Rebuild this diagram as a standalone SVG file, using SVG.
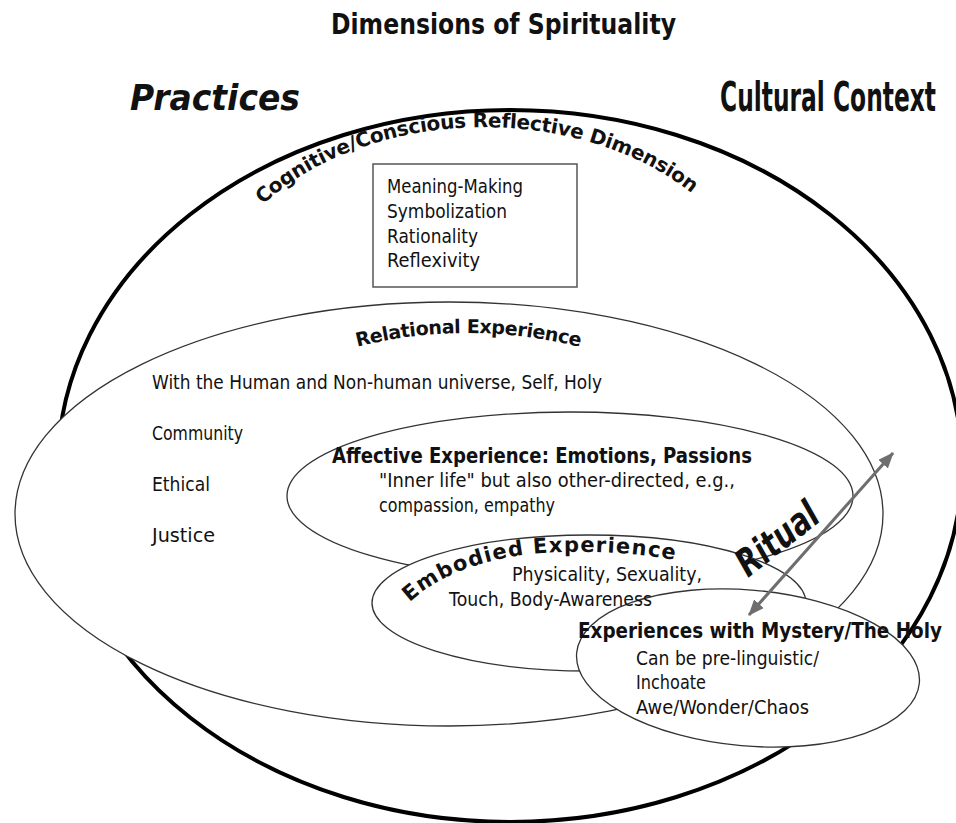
<svg xmlns="http://www.w3.org/2000/svg" width="956" height="823" viewBox="0 0 956 823">
  <style>
    .hand { font-family: 'Comic Sans MS', 'DejaVu Sans', sans-serif; fill: #111; }
    .b { font-weight: bold; }
    .body { font-size: 20px; }
    .ring { fill: #fff; stroke: #333; stroke-width: 1.3; }
    .outer { fill: none; stroke: #000; stroke-width: 4; }
    .cond { font-family: 'DejaVu Sans Condensed', 'DejaVu Sans', sans-serif; font-stretch: condensed; fill: #111; }
  </style>
  <defs>
    <marker id="head" viewBox="0 0 16 13" markerWidth="16" markerHeight="13" markerUnits="userSpaceOnUse" refX="15" refY="6.5" orient="auto-start-reverse">
      <path d="M0,0 L16,6.5 L0,13 z" fill="#6e6e6e"/>
    </marker>
    <path id="arcCognitive" d="M 208.3 292.3 A 280 200 0 0 1 759.7 292.3"/>
    <path id="arcRelational" d="M 345 350 Q 466 316 592 350"/>
    <path id="arcEmbodied" d="M 404 608 C 440 570 500 553 565 552 C 620 551 660 556 700 565"/>
  </defs>

  <rect width="956" height="823" fill="#fff"/>

  <!-- heading and side labels -->
  <g id="title">
    <text class="hand b" x="331" y="34" font-size="28" textLength="345" lengthAdjust="spacingAndGlyphs">Dimensions of Spirituality</text>
  </g>
  <g id="practices">
    <text class="hand b" x="130" y="110" font-size="35" font-style="italic" textLength="170" lengthAdjust="spacingAndGlyphs">Practices</text>
  </g>
  <g id="cultural-context">
    <text class="cond b" x="720" y="111" font-size="40" textLength="216" lengthAdjust="spacingAndGlyphs">Cultural Context</text>
  </g>

  <!-- cognitive / conscious reflective dimension: the large outer ring -->
  <g id="cognitive">
    <ellipse class="outer" cx="510" cy="466" rx="452" ry="356"/>
    <text class="hand b" font-size="20" letter-spacing="-0.3"><textPath href="#arcCognitive" startOffset="48.7%" text-anchor="middle">Cognitive/Conscious Reflective Dimension</textPath></text>
  </g>

  <g id="reflective-box">
    <rect x="373" y="164" width="204" height="123" fill="#fff" stroke="#555" stroke-width="1.5"/>
    <text class="hand body" x="387" y="193" textLength="136" lengthAdjust="spacingAndGlyphs">Meaning-Making</text>
    <text class="hand body" x="387" y="218" textLength="120" lengthAdjust="spacingAndGlyphs">Symbolization</text>
    <text class="hand body" x="387" y="243" textLength="91" lengthAdjust="spacingAndGlyphs">Rationality</text>
    <text class="hand body" x="387" y="267" textLength="93" lengthAdjust="spacingAndGlyphs">Reflexivity</text>
  </g>

  <g id="relational">
    <ellipse class="ring" cx="449" cy="514" rx="434" ry="212"/>
    <text class="hand b" font-size="19" letter-spacing="-0.4"><textPath href="#arcRelational" startOffset="50%" text-anchor="middle">Relational Experience</textPath></text>
    <text class="hand body" x="152" y="389" textLength="450" lengthAdjust="spacingAndGlyphs">With the Human and Non-human universe, Self, Holy</text>
    <text class="hand body" x="152" y="440" textLength="91" lengthAdjust="spacingAndGlyphs">Community</text>
    <text class="hand body" x="152" y="491" textLength="58" lengthAdjust="spacingAndGlyphs">Ethical</text>
    <text class="hand body" x="152" y="542" textLength="63" lengthAdjust="spacingAndGlyphs">Justice</text>
  </g>

  <g id="affective">
    <ellipse class="ring" cx="570" cy="496" rx="283" ry="84"/>
    <text class="hand b" x="332" y="463" font-size="21" textLength="420" lengthAdjust="spacingAndGlyphs">Affective Experience: Emotions, Passions</text>
    <text class="hand body" x="379" y="487" textLength="356" lengthAdjust="spacingAndGlyphs">"Inner life" but also other-directed, e.g.,</text>
    <text class="hand body" x="379" y="512" textLength="176" lengthAdjust="spacingAndGlyphs">compassion, empathy</text>
  </g>

  <g id="embodied">
    <ellipse class="ring" cx="589" cy="603" rx="217" ry="68"/>
    <text class="hand b" font-size="21" letter-spacing="1.2"><textPath href="#arcEmbodied" startOffset="8">Embodied Experience</textPath></text>
    <text class="hand body" x="512" y="581" textLength="190" lengthAdjust="spacingAndGlyphs">Physicality, Sexuality,</text>
  </g>

  <g id="mystery">
    <ellipse class="ring" cx="748" cy="668" rx="172" ry="78" transform="rotate(5 748 668)"/>
    <text class="hand b" x="578" y="638" font-size="21" textLength="364" lengthAdjust="spacingAndGlyphs">Experiences with Mystery/The Holy</text>
    <text class="hand body" x="636" y="665" textLength="183" lengthAdjust="spacingAndGlyphs">Can be pre-linguistic/</text>
    <text class="hand body" x="636" y="689" textLength="70" lengthAdjust="spacingAndGlyphs">Inchoate</text>
    <text class="hand body" x="636" y="714" textLength="173" lengthAdjust="spacingAndGlyphs">Awe/Wonder/Chaos</text>
  </g>

  <!-- drawn after the mystery ring so the ring's outline runs under it -->
  <g id="embodied-detail">
    <text class="hand body" x="449" y="606" textLength="203" lengthAdjust="spacingAndGlyphs">Touch, Body-Awareness</text>
  </g>

  <g id="connectors">
    <line x1="749" y1="615" x2="893" y2="453" stroke="#6e6e6e" stroke-width="3" marker-start="url(#head)" marker-end="url(#head)"/>
  </g>

  <g id="ritual">
    <text class="cond b" font-size="38" font-style="italic" transform="translate(748 578) rotate(-38)" textLength="94" lengthAdjust="spacingAndGlyphs">Ritual</text>
  </g>
</svg>
